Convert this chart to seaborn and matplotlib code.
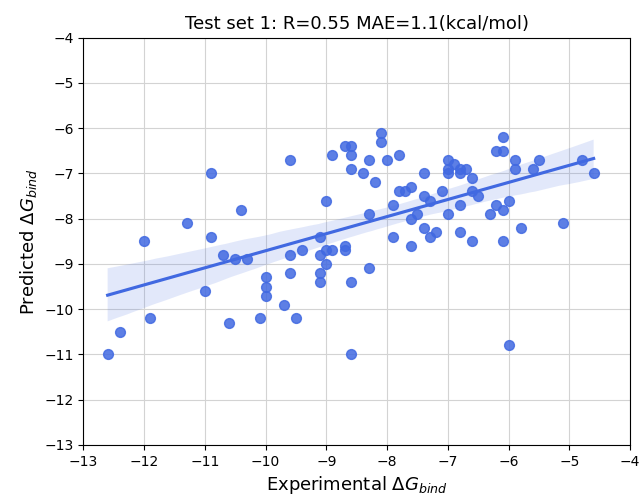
import numpy as np
import pandas as pd
import seaborn as sns
import matplotlib.pyplot as plt

# Experimental vs predicted binding free energies
experimental = [-12.6, -12.4, -11.9, -12.0, -11.3, -10.9, -10.4, -10.9, -10.7, -10.5,
                -10.3, -11.0, -10.6, -10.1, -10.0, -10.0, -10.0, -9.7, -9.5, -9.6,
                -9.6, -9.6, -9.4, -9.1, -9.1, -9.1, -9.1, -9.0, -9.0, -9.0,
                -8.9, -8.9, -8.7, -8.6, -8.6, -8.6, -8.7, -8.7, -8.6, -8.6,
                -8.4, -8.3, -8.2, -8.3, -8.3, -8.1, -8.1, -8.0, -7.8, -7.9,
                -7.9, -7.8, -7.7, -7.6, -7.6, -7.6, -7.5, -7.4, -7.4, -7.4,
                -7.3, -7.3, -7.2, -7.1, -7.0, -7.0, -7.0, -7.0, -6.9, -6.8,
                -6.8, -6.8, -6.8, -6.7, -6.6, -6.6, -6.5, -6.6, -6.3, -6.2,
                -6.1, -6.0, -6.1, -6.2, -6.1, -5.9, -5.9, -5.8, -6.1, -6.0,
                -5.6, -5.5, -5.1, -4.8, -4.6]
predicted = [-11.0, -10.5, -10.2, -8.5, -8.1, -7.0, -7.8, -8.4, -8.8, -8.9,
             -8.9, -9.6, -10.3, -10.2, -9.3, -9.5, -9.7, -9.9, -10.2, -6.7,
             -8.8, -9.2, -8.7, -8.4, -8.8, -9.2, -9.4, -7.6, -8.7, -9.0,
             -8.7, -6.6, -6.4, -6.4, -6.6, -6.9, -8.6, -8.7, -9.4, -11.0,
             -7.0, -6.7, -7.2, -7.9, -9.1, -6.1, -6.3, -6.7, -6.6, -7.7,
             -8.4, -7.4, -7.4, -7.3, -8.0, -8.6, -7.9, -7.0, -7.5, -8.2,
             -7.6, -8.4, -8.3, -7.4, -6.7, -6.9, -7.0, -7.9, -6.8, -6.9,
             -7.0, -7.7, -8.3, -6.9, -7.1, -7.4, -7.5, -8.5, -7.9, -7.7,
             -7.8, -7.6, -6.2, -6.5, -6.5, -6.7, -6.9, -8.2, -8.5, -10.8,
             -6.9, -6.7, -8.1, -6.7, -7.0]

df = pd.DataFrame({'Experimental': experimental, 'Predicted': predicted})

fig, ax = plt.subplots(figsize=(6.41, 5), dpi=100)
sns.regplot(x='Experimental', y='Predicted', data=df, color='royalblue', ax=ax,
            scatter_kws={'s': 50, 'alpha': 0.85})

ax.set_xlim(-13, -4)
ax.set_ylim(-13, -4)
ax.set_xticks(np.arange(-13, -3, 1))
ax.set_yticks(np.arange(-13, -3, 1))
ax.grid(True, color='#d3d3d3', linewidth=0.8)
ax.set_axisbelow(True)
ax.tick_params(labelsize=10)
ax.set_xlabel(r'Experimental $\Delta G_{bind}$', fontsize=13)
ax.set_ylabel(r'Predicted $\Delta G_{bind}$', fontsize=13)
ax.set_title('Test set 1: R=0.55 MAE=1.1(kcal/mol)', fontsize=13)

plt.subplots_adjust(left=0.13, right=0.983, top=0.925, bottom=0.11)
plt.savefig('out.png', dpi=100)
